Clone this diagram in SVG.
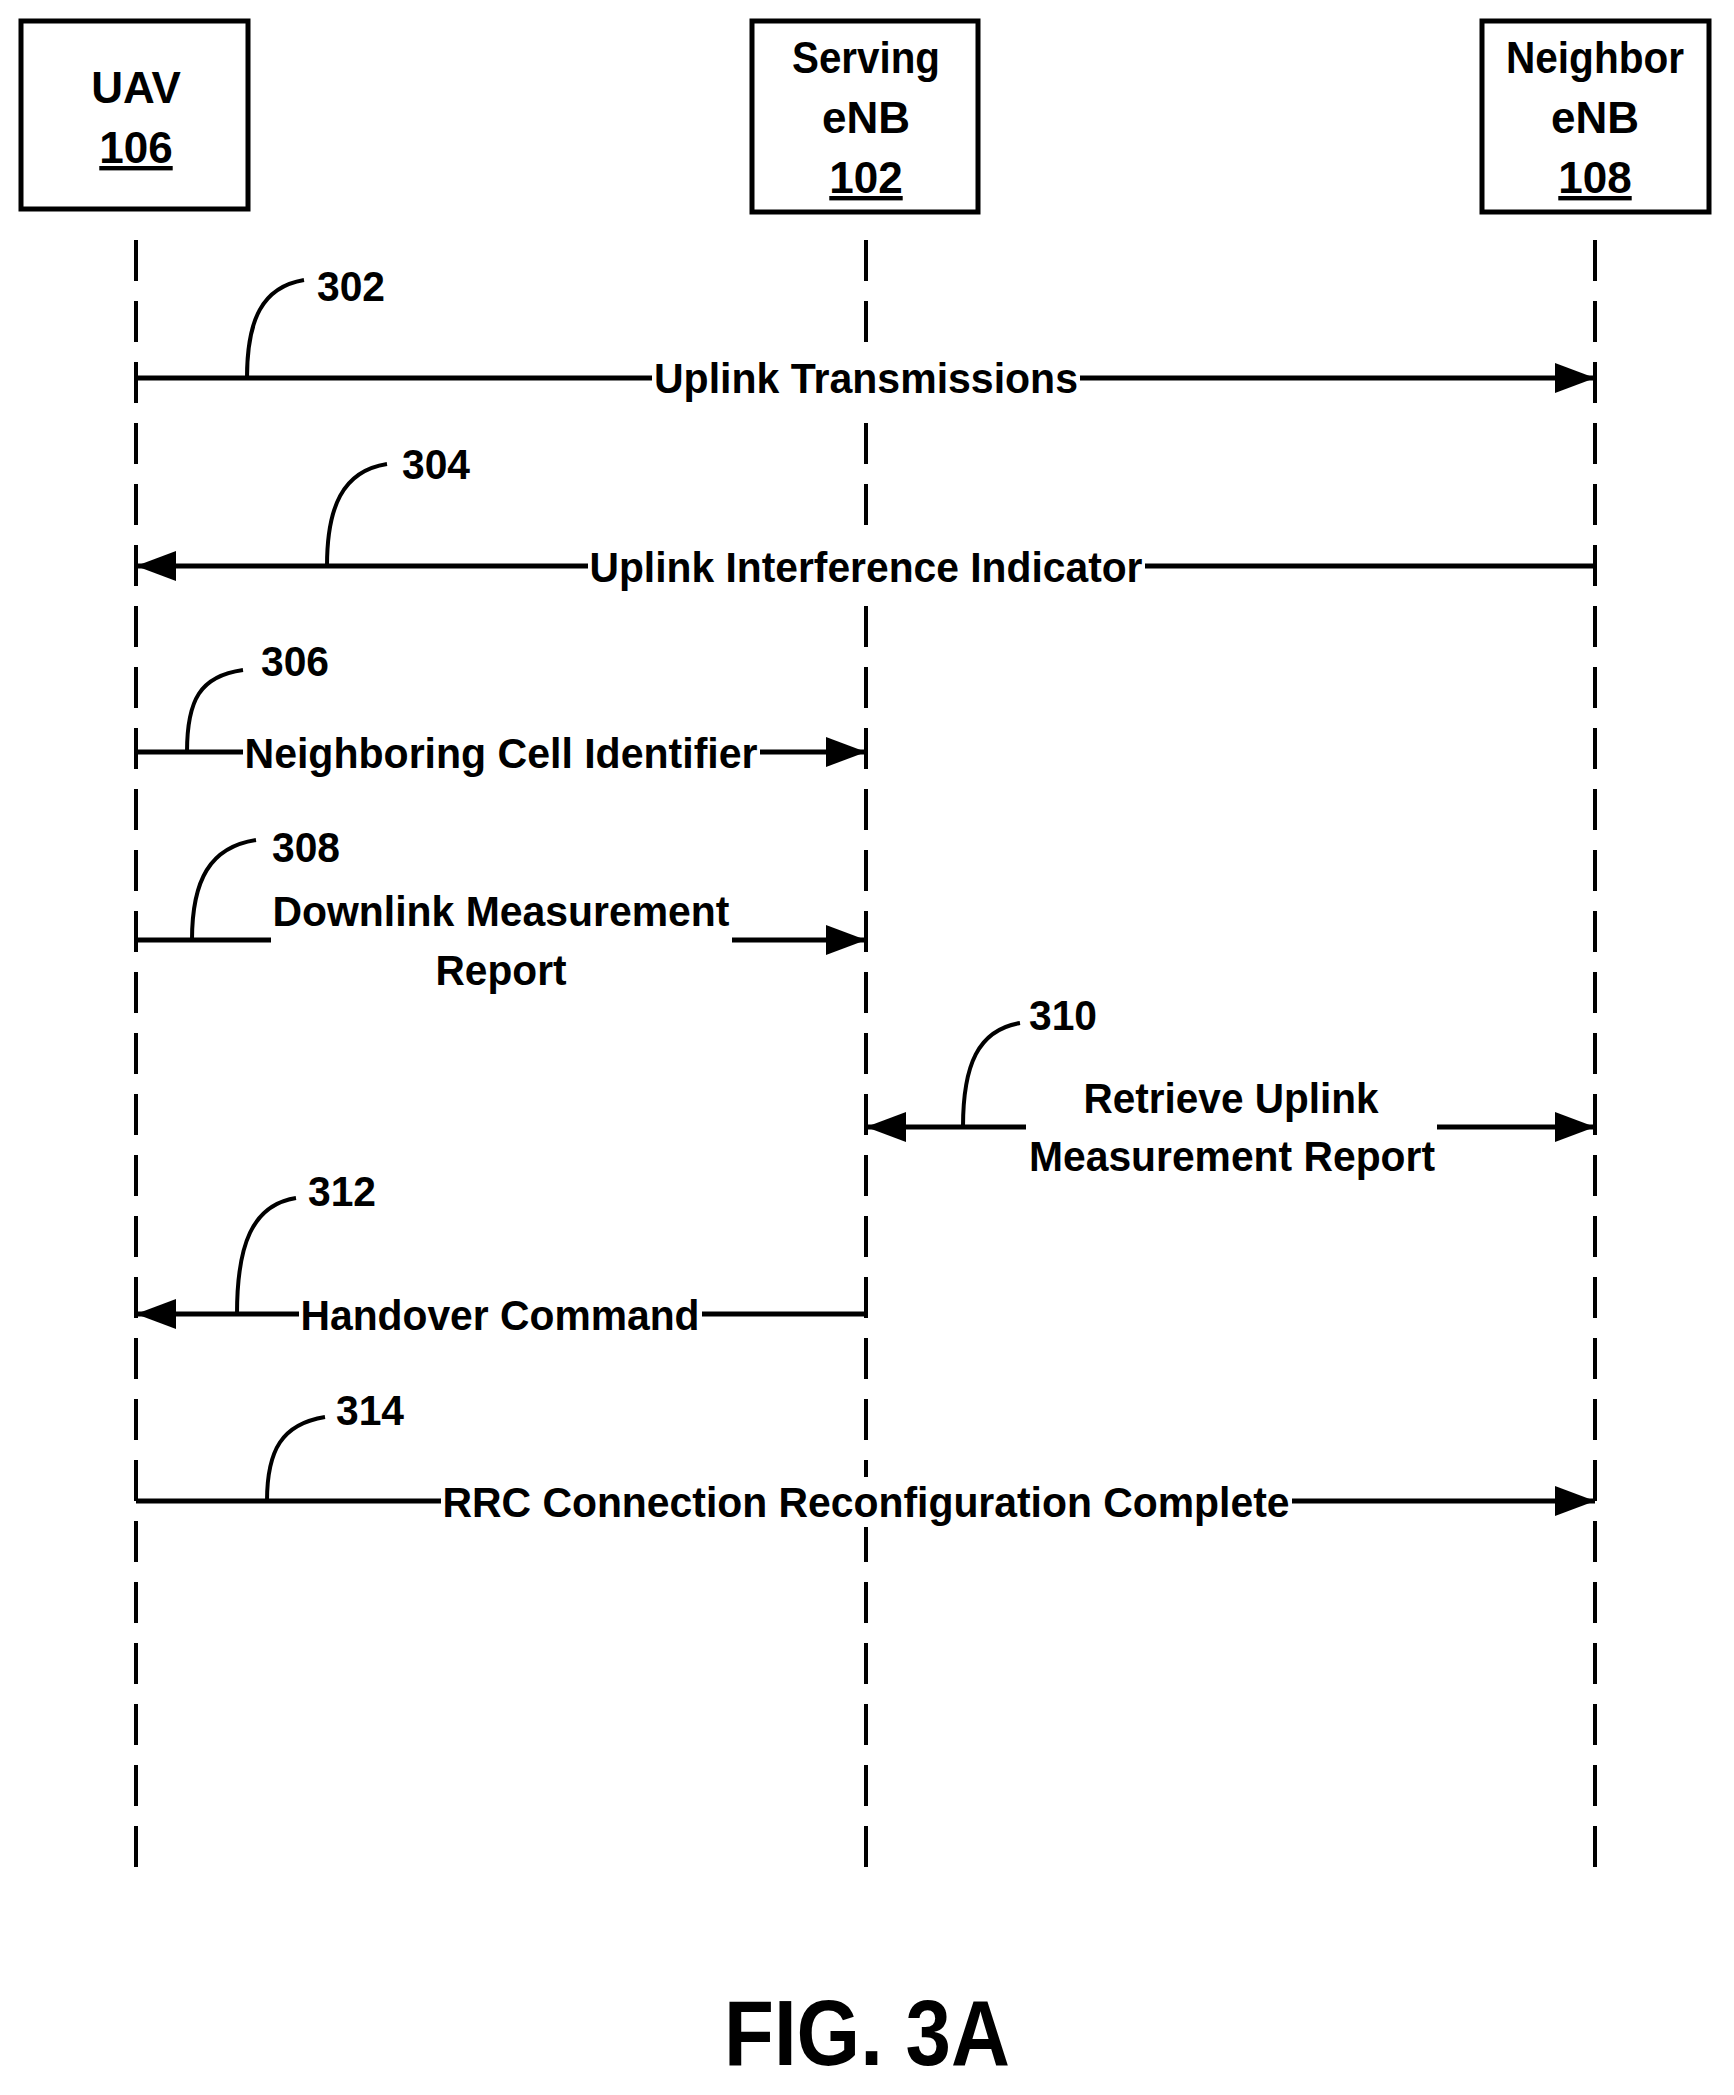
<svg xmlns="http://www.w3.org/2000/svg" width="1734" height="2095" viewBox="0 0 1734 2095">
<style>
text{font-family:"Liberation Sans Narrow","Liberation Sans",Arial,sans-serif;font-weight:bold;fill:#000}
.l{font-size:42px;text-anchor:middle}
.n{font-size:42px}
.b{font-size:44px;text-anchor:middle}
.box{fill:#fff;stroke:#000;stroke-width:5}
.life{stroke:#000;stroke-width:4;stroke-dasharray:41 20}
.m{stroke:#000;stroke-width:5;fill:none}
.ld{stroke:#000;stroke-width:4;fill:none}
.bg{fill:#fff}
</style>
<defs>
<marker id="ah" viewBox="0 0 40 30" refX="40" refY="15" markerWidth="40" markerHeight="30" markerUnits="userSpaceOnUse" orient="auto-start-reverse"><path d="M0,0 L40,15 L0,30 Z" fill="#000"/></marker>
</defs>
<rect width="1734" height="2095" fill="#fff"/>
<g id="uav"><rect class="box" x="21" y="21" width="227" height="188"/><text class="b" x="136" y="103">UAV</text><text class="b" x="136" y="163" text-decoration="underline">106</text></g>
<g id="serving"><rect class="box" x="752" y="21" width="226" height="191"/><text class="b" x="866" y="73" textLength="148" lengthAdjust="spacingAndGlyphs">Serving</text><text class="b" x="866" y="133">eNB</text><text class="b" x="866" y="193" text-decoration="underline">102</text></g>
<g id="neighbor"><rect class="box" x="1482" y="21" width="227" height="191"/><text class="b" x="1595" y="73" textLength="178" lengthAdjust="spacingAndGlyphs">Neighbor</text><text class="b" x="1595" y="133">eNB</text><text class="b" x="1595" y="193" text-decoration="underline">108</text></g>
<g id="lifelines"><line class="life" x1="136" y1="240" x2="136" y2="1881"/><line class="life" x1="866" y1="240" x2="866" y2="1881"/><line class="life" x1="1595" y1="240" x2="1595" y2="1881"/></g>
<g id="connectors">
<line class="m" x1="136" y1="378" x2="652" y2="378"/><line class="m" x1="1080" y1="378" x2="1595" y2="378" marker-end="url(#ah)"/>
<line class="m" x1="588" y1="566" x2="136" y2="566" marker-end="url(#ah)"/><line class="m" x1="1145" y1="566" x2="1595" y2="566"/>
<line class="m" x1="136" y1="752" x2="243" y2="752"/><line class="m" x1="760" y1="752" x2="866" y2="752" marker-end="url(#ah)"/>
<line class="m" x1="136" y1="940" x2="271" y2="940"/><line class="m" x1="732" y1="940" x2="866" y2="940" marker-end="url(#ah)"/>
<line class="m" x1="1026" y1="1127" x2="866" y2="1127" marker-end="url(#ah)"/><line class="m" x1="1437" y1="1127" x2="1595" y2="1127" marker-end="url(#ah)"/>
<line class="m" x1="299" y1="1314" x2="136" y2="1314" marker-end="url(#ah)"/><line class="m" x1="702" y1="1314" x2="866" y2="1314"/>
<line class="m" x1="136" y1="1501" x2="441" y2="1501"/><line class="m" x1="1292" y1="1501" x2="1595" y2="1501" marker-end="url(#ah)"/>
<path class="ld" d="M247,378 C247,320 262,287 304,280"/>
<path class="ld" d="M327,566 C327,508 342,471 387,464"/>
<path class="ld" d="M187,752 C187,700 200,676 243,670"/>
<path class="ld" d="M192,940 C192,880 210,847 256,840"/>
<path class="ld" d="M963,1127 C963,1065 978,1030 1020,1023"/>
<path class="ld" d="M237,1314 C237,1245 252,1205 296,1198"/>
<path class="ld" d="M267,1501 C267,1450 282,1424 325,1417"/>
</g>
<g id="labels">
<rect class="bg" x="846" y="354" width="40" height="50"/>
<rect class="bg" x="846" y="542" width="40" height="50"/>
<rect class="bg" x="846" y="1477" width="40" height="50"/>
<text class="l" x="866" y="393" textLength="424" lengthAdjust="spacingAndGlyphs">Uplink Transmissions</text>
<text class="l" x="866" y="582" textLength="553" lengthAdjust="spacingAndGlyphs">Uplink Interference Indicator</text>
<text class="l" x="501" y="768" textLength="513" lengthAdjust="spacingAndGlyphs">Neighboring Cell Identifier</text>
<text class="l" x="501" y="926" textLength="457" lengthAdjust="spacingAndGlyphs">Downlink Measurement</text>
<text class="l" x="501" y="985" textLength="131" lengthAdjust="spacingAndGlyphs">Report</text>
<text class="l" x="1231" y="1113" textLength="295" lengthAdjust="spacingAndGlyphs">Retrieve Uplink</text>
<text class="l" x="1232" y="1171" textLength="406" lengthAdjust="spacingAndGlyphs">Measurement Report</text>
<text class="l" x="500" y="1330" textLength="399" lengthAdjust="spacingAndGlyphs">Handover Command</text>
<text class="l" x="866" y="1517" textLength="847" lengthAdjust="spacingAndGlyphs">RRC Connection Reconfiguration Complete</text>
<text class="n" x="317" y="301" textLength="68" lengthAdjust="spacingAndGlyphs">302</text>
<text class="n" x="402" y="479" textLength="68" lengthAdjust="spacingAndGlyphs">304</text>
<text class="n" x="261" y="676" textLength="68" lengthAdjust="spacingAndGlyphs">306</text>
<text class="n" x="272" y="862" textLength="68" lengthAdjust="spacingAndGlyphs">308</text>
<text class="n" x="1029" y="1030" textLength="68" lengthAdjust="spacingAndGlyphs">310</text>
<text class="n" x="308" y="1206" textLength="68" lengthAdjust="spacingAndGlyphs">312</text>
<text class="n" x="336" y="1425" textLength="68" lengthAdjust="spacingAndGlyphs">314</text>
<text x="867" y="2065" font-size="92" text-anchor="middle" textLength="286" lengthAdjust="spacingAndGlyphs">FIG. 3A</text>
</g>
</svg>
